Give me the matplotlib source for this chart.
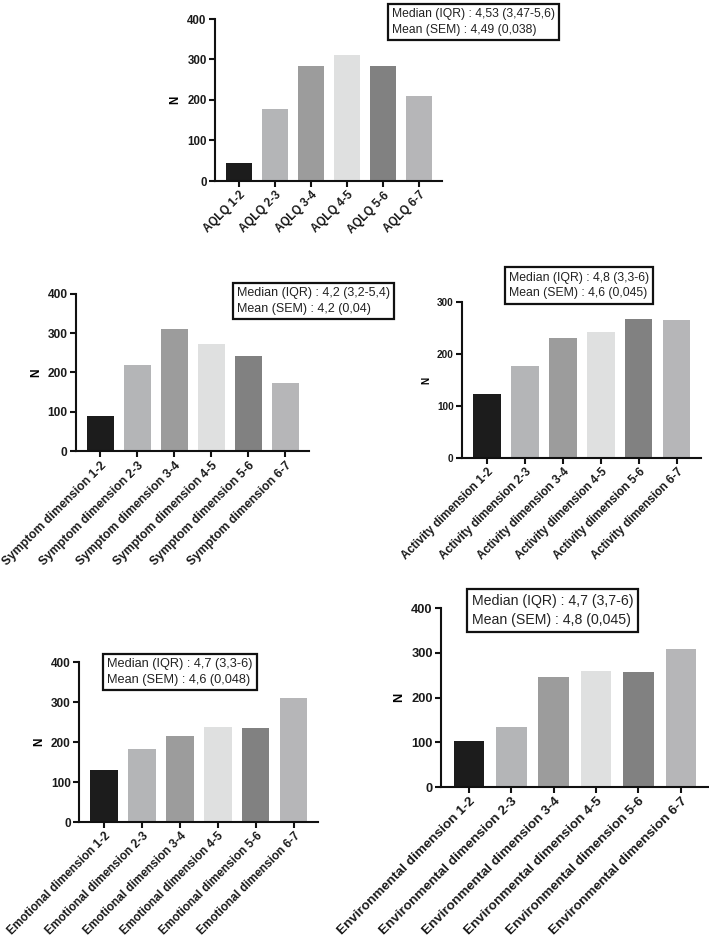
import numpy as np
import matplotlib.pyplot as plt

plt.rcParams['font.family'] = ['Liberation Sans', 'DejaVu Sans']

W, H = 709, 938

# data
ranges = ["1-2", "2-3", "3-4", "4-5", "5-6", "6-7"]
aqlq_n = [44, 178, 285, 311, 285, 210]
symptom_n = [89, 220, 310, 272, 242, 174]
activity_n = [124, 177, 231, 242, 267, 266]
emotional_n = [130, 183, 215, 238, 235, 309]
environmental_n = [102, 135, 246, 260, 258, 309]

aqlq_stats = ["Median (IQR) : 4,53 (3,47-5,6)", "Mean (SEM) : 4,49 (0,038)"]
symptom_stats = ["Median (IQR) : 4,2 (3,2-5,4)", "Mean (SEM) : 4,2 (0,04)"]
activity_stats = ["Median (IQR) : 4,8 (3,3-6)", "Mean (SEM) : 4,6 (0,045)"]
emotional_stats = ["Median (IQR) : 4,7 (3,3-6)", "Mean (SEM) : 4,6 (0,048)"]
environmental_stats = ["Median (IQR) : 4,7 (3,7-6)", "Mean (SEM) : 4,8 (0,045)"]

bar_colors = ['#1c1c1c', '#b4b5b7', '#9c9c9c', '#dfe0e0', '#818181', '#b6b6b8']


def add_panel(x0, x1, ytop, ybot, prefix, values, ymax, fs, yfs):
    ax = plt.gcf().add_axes([x0 / W, 1 - ybot / H, (x1 - x0) / W, (ybot - ytop) / H])
    x = np.arange(len(values))
    ax.bar(x, values, width=0.72, color=bar_colors)
    ax.set_xlim(-0.66, 5.64)
    ax.set_ylim(0, ymax)
    ax.set_yticks(np.arange(0, ymax + 1, 100))
    ax.set_xticks(x)
    ax.set_xticklabels([prefix + r for r in ranges], rotation=45, ha='right',
                       rotation_mode='anchor', fontsize=fs, fontweight='bold',
                       color='#1a1a1a')
    for lab in ax.get_yticklabels():
        lab.set_fontsize(yfs)
        lab.set_fontweight('bold')
        lab.set_color('#1a1a1a')
    ax.set_ylabel('N', fontsize=yfs, fontweight='bold', labelpad=4)
    for s in ['top', 'right']:
        ax.spines[s].set_visible(False)
    for s in ['left', 'bottom']:
        ax.spines[s].set_linewidth(1.5)
        ax.spines[s].set_color('#111111')
    ax.tick_params(direction='out', length=4, width=1.5, color='#111111', pad=2)
    return ax


def add_box(left, top, bottom, lines, fs):
    plt.gcf().text((left + 5) / W, 1 - (top + bottom) / 2 / H, "\n".join(lines),
                   fontsize=fs, color='#222222', va='center', ha='left', linespacing=1.4,
                   bbox=dict(boxstyle='square,pad=0.35', facecolor='white',
                             edgecolor='#111111', linewidth=1.6))


fig = plt.figure(figsize=(W / 100, H / 100), dpi=100)

add_panel(215, 442, 19, 181, "AQLQ ", aqlq_n, 400, 8.3, 8.3)
add_box(387, 2, 42, aqlq_stats, 8.7)

add_panel(76, 309, 294, 451, "Symptom dimension ", symptom_n, 400, 8.7, 8.6)
add_box(232, 282, 320, symptom_stats, 9)

add_panel(462, 701, 302, 458, "Activity dimension ", activity_n, 300, 8.4, 7.2)
add_box(504, 269, 302, activity_stats, 8.8)

add_panel(79, 318, 662, 822, "Emotional dimension ", emotional_n, 400, 8.5, 8.5)
add_box(102, 652, 692, emotional_stats, 9.2)

add_panel(441, 708, 608, 787, "Environmental dimension ", environmental_n, 400, 9.7, 9.3)
add_box(467, 588, 633, environmental_stats, 10.2)

fig.savefig('out.png', dpi=100)
